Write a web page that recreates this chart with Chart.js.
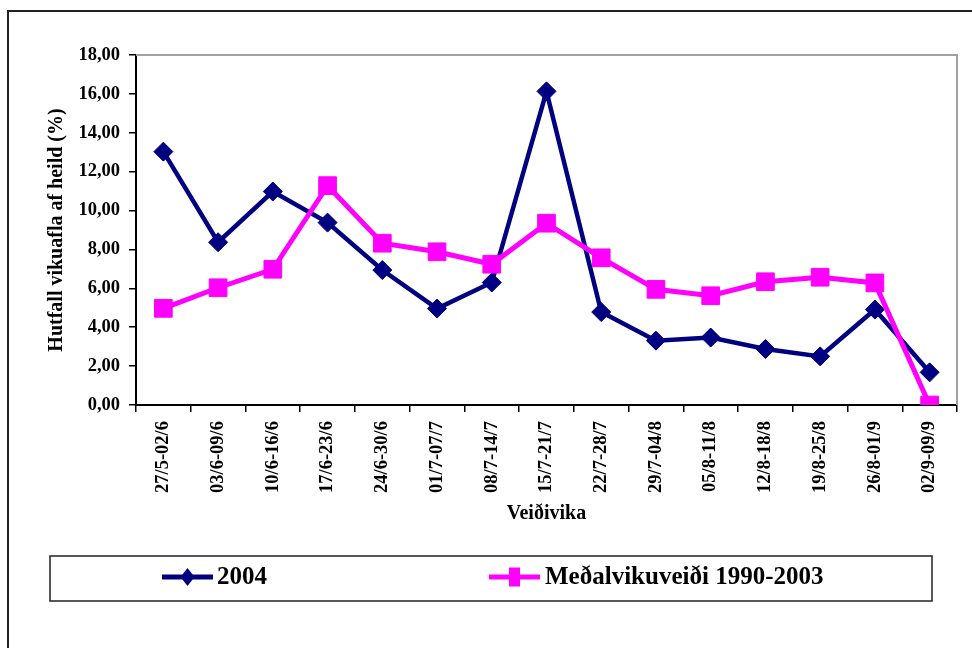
<!DOCTYPE html>
<html>
<head>
<meta charset="utf-8">
<script src="https://cdn.jsdelivr.net/npm/chart.js@4/dist/chart.umd.min.js"></script>
<style>
  html, body { margin: 0; padding: 0; background: #fff; }
  #c { display: block; }
</style>
</head>
<body>
<canvas id="c" width="972" height="648"></canvas>
<script>
// ---- Data ----
const categories = ["27/5-02/6","03/6-09/6","10/6-16/6","17/6-23/6","24/6-30/6","01/7-07/7","08/7-14/7","15/7-21/7","22/7-28/7","29/7-04/8","05/8-11/8","12/8-18/8","19/8-25/8","26/8-01/9","02/9-09/9"];
const series2004 = [13.03, 8.37, 10.98, 9.38, 6.94, 4.96, 6.30, 16.13, 4.78, 3.31, 3.47, 2.88, 2.50, 4.91, 1.68];
const seriesAvg = [4.97, 6.03, 6.98, 11.28, 8.32, 7.88, 7.24, 9.35, 7.57, 5.95, 5.62, 6.34, 6.57, 6.28, 0.00];
const seriesLabels = ["2004", "Meðalvikuveiði 1990-2003"];
const yTitle = "Hutfall vikuafla af heild (%)";
const xTitle = "Veiðivika";
const yMin = 0, yMax = 18, yStep = 2;

const FONT = "'Liberation Serif', 'Times New Roman', serif";

const framePlugin = {
  id: 'frame',
  beforeDraw(chart) {
    const ctx = chart.ctx;
    ctx.save();
    ctx.fillStyle = '#fff';
    ctx.fillRect(0, 0, chart.width, chart.height);
    ctx.strokeStyle = '#222';
    ctx.lineWidth = 2;
    ctx.strokeRect(8, 11, chart.width + 20, chart.height + 20);
    ctx.restore();
  },
  beforeDatasetsDraw(chart) {
    const a = chart.chartArea, ctx = chart.ctx;
    ctx.save();
    ctx.strokeStyle = '#a0a0a0';
    ctx.lineWidth = 2;
    ctx.beginPath();
    ctx.moveTo(a.left, a.top);
    ctx.lineTo(a.right, a.top);
    ctx.lineTo(a.right, a.bottom);
    ctx.stroke();
    ctx.restore();
  }
};

const legendPlugin = {
  id: 'boxLegend',
  afterDraw(chart) {
    const ctx = chart.ctx;
    ctx.save();
    ctx.strokeStyle = '#222';
    ctx.lineWidth = 1.5;
    ctx.strokeRect(50, 556, 882, 45);
    const items = [
      { lx0: 162, lx1: 213, tx: 217 },
      { lx0: 489, lx1: 540, tx: 545 }
    ];
    const cy = 577;
    chart.data.datasets.forEach((ds, i) => {
      const it = items[i];
      ctx.strokeStyle = ds.borderColor;
      ctx.lineWidth = 5;
      ctx.beginPath();
      ctx.moveTo(it.lx0, cy);
      ctx.lineTo(it.lx1, cy);
      ctx.stroke();
      const mx = (it.lx0 + it.lx1) / 2;
      ctx.fillStyle = ds.pointBackgroundColor;
      ctx.beginPath();
      if (ds.pointStyle === 'rectRot') {
        const rx = 7, ry = 9;
        ctx.moveTo(mx, cy - ry); ctx.lineTo(mx + rx, cy); ctx.lineTo(mx, cy + ry); ctx.lineTo(mx - rx, cy);
        ctx.closePath();
      } else {
        ctx.rect(mx - 5.5, cy - 9.5, 11, 19);
      }
      ctx.fill();
      ctx.fillStyle = '#000';
      ctx.font = "bold 25px " + FONT;
      ctx.textBaseline = 'middle';
      ctx.textAlign = 'left';
      ctx.fillText(ds.label, it.tx, cy + 1);
    });
    ctx.restore();
  }
};

new Chart(document.getElementById('c'), {
  type: 'line',
  data: {
    labels: categories,
    datasets: [
      {
        label: seriesLabels[0],
        data: series2004,
        borderColor: '#000080',
        backgroundColor: '#000080',
        pointBackgroundColor: '#000080',
        pointBorderColor: '#000080',
        borderWidth: 4.5,
        pointStyle: 'rectRot',
        pointRadius: 9.5,
        pointBorderWidth: 1,
        pointHoverRadius: 9.5,
        tension: 0,
        order: 1
      },
      {
        label: seriesLabels[1],
        data: seriesAvg,
        borderColor: '#ff00ff',
        backgroundColor: '#ff00ff',
        pointBackgroundColor: '#ff00ff',
        pointBorderColor: '#ff00ff',
        borderWidth: 5,
        pointStyle: 'rect',
        pointRadius: 12.5,
        pointBorderWidth: 1,
        pointHoverRadius: 12.5,
        tension: 0,
        order: 0
      }
    ]
  },
  options: {
    responsive: false,
    devicePixelRatio: 1,
    animation: false,
    events: [],
    layout: { padding: { top: 55, right: 15, left: 0, bottom: 0 } },
    plugins: {
      legend: { display: false },
      tooltip: { enabled: false }
    },
    scales: {
      x: {
        type: 'category',
        offset: true,
        afterFit(scale) { scale.height = 243; },
        grid: {
          display: true, drawOnChartArea: false, drawTicks: true,
          tickLength: 7, color: '#000', lineWidth: 1.5, offset: true
        },
        border: { display: true, color: '#000', width: 2 },
        ticks: {
          autoSkip: false, maxRotation: 90, minRotation: 90, padding: 9,
          color: '#000', font: { family: FONT, size: 18.5, weight: 'bold' }
        },
        title: {
          display: true, text: xTitle, color: '#000',
          font: { family: FONT, size: 20, weight: 'bold' },
          padding: { top: 0, bottom: 122 }
        }
      },
      y: {
        min: yMin, max: yMax,
        afterFit(scale) { scale.width = 136; },
        grid: {
          display: true, drawOnChartArea: false, drawTicks: true,
          tickLength: 7, color: '#000', lineWidth: 1.5
        },
        border: { display: true, color: '#000', width: 2 },
        ticks: {
          stepSize: yStep, padding: 9, color: '#000',
          font: { family: FONT, size: 18.5, weight: 'bold' },
          callback: (v) => Number(v).toFixed(2).replace('.', ',')
        },
        title: {
          display: true, text: yTitle, color: '#000',
          font: { family: FONT, size: 20, weight: 'bold' },
          padding: { top: 45, bottom: 0 }
        }
      }
    }
  },
  plugins: [framePlugin, legendPlugin]
});
</script>
</body>
</html>
